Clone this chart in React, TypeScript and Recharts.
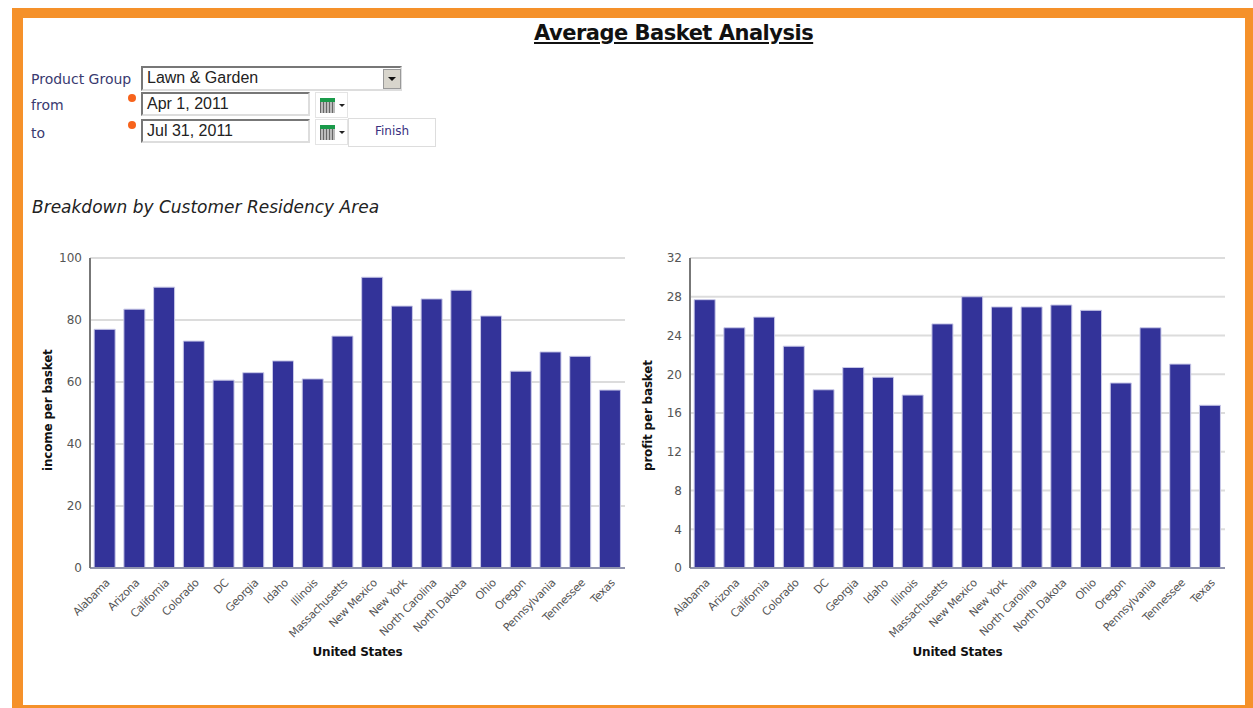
import React from 'react'
import { BarChart, Bar, XAxis, YAxis, CartesianGrid } from 'recharts'

const states = [
  'Alabama', 'Arizona', 'California', 'Colorado', 'DC', 'Georgia', 'Idaho', 'Illinois', 'Massachusetts',
  'New Mexico', 'New York', 'North Carolina', 'North Dakota', 'Ohio', 'Oregon', 'Pennsylvania', 'Tennessee', 'Texas',
]
const incomePerBasket = [77, 83.5, 90.6, 73.2, 60.6, 63, 66.8, 61, 74.8, 93.8, 84.5, 86.8, 89.6, 81.3, 63.5, 69.7, 68.3, 57.4]
const profitPerBasket = [27.7, 24.8, 25.9, 22.9, 18.4, 20.7, 19.7, 17.85, 25.2, 28, 26.95, 26.95, 27.15, 26.6, 19.1, 24.8, 21.05, 16.8]
const incomeTicks = [0, 20, 40, 60, 80, 100]
const profitTicks = [0, 4, 8, 12, 16, 20, 24, 28, 32]

const FONT = '"DejaVu Sans", Verdana, sans-serif'
const ARIAL = '"Liberation Sans", Arial, sans-serif'

const BasketChart = ({ left, values, ticks, yLabel }: { left: number; values: number[]; ticks: number[]; yLabel: string }) => {
  const data = states.map((name, i) => ({ name, value: values[i] }))
  return (
    <div style={{ position: 'absolute', left, top: 240 }}>
      <BarChart width={610} height={430} data={data} barCategoryGap="14%" margin={{ top: 18, right: 15, left: 0, bottom: 2 }}>
        <CartesianGrid vertical={false} stroke="#dcdcdc" strokeWidth={2} />
        <XAxis
          dataKey="name"
          interval={0}
          height={100}
          angle={-45}
          textAnchor="end"
          tickLine={false}
          tickMargin={4}
          axisLine={{ stroke: '#8f93ad', strokeWidth: 2 }}
          tick={{ fontSize: 11, fill: '#555', fontFamily: FONT, letterSpacing: -0.3 }}
          label={{ value: 'United States', position: 'insideBottom', offset: 12, fontSize: 12, fontWeight: 'bold', fill: '#111', fontFamily: FONT, letterSpacing: -0.2 }}
        />
        <YAxis
          width={60}
          domain={[ticks[0], ticks[ticks.length - 1]]}
          ticks={ticks}
          interval={0}
          tickLine={false}
          tickMargin={2}
          axisLine={{ stroke: '#777', strokeWidth: 2 }}
          tick={{ fontSize: 12, fill: '#555', fontFamily: FONT }}
          label={{ value: yLabel, angle: -90, position: 'insideLeft', offset: 18, dy: 58, fontSize: 12, fontWeight: 'bold', fill: '#111', fontFamily: FONT, letterSpacing: -0.2 }}
        />
        <Bar dataKey="value" fill="#333399" stroke="#c9c9e8" strokeWidth={1} isAnimationActive={false} />
      </BarChart>
    </div>
  )
}

const fieldStyle: React.CSSProperties = {
  position: 'absolute',
  boxSizing: 'border-box',
  background: '#fff',
  borderTop: '2px solid #777',
  borderLeft: '2px solid #777',
  borderRight: '2px solid #ddd',
  borderBottom: '2px solid #ddd',
  fontFamily: ARIAL,
  fontSize: 16,
  color: '#222',
  paddingLeft: 4,
  lineHeight: '20px',
}

const labelStyle: React.CSSProperties = { position: 'absolute', left: 31, fontFamily: FONT, fontSize: 14, color: '#3a3a70' }

// small calendar button next to the date fields
const CalendarButton = ({ top }: { top: number }) => (
  <div style={{ position: 'absolute', left: 315, top, width: 33, height: 26, boxSizing: 'border-box', border: '1px solid #e4e4e4', background: '#fff' }}>
    <div style={{ position: 'absolute', left: 4, top: 5, width: 15, height: 15, background: 'repeating-linear-gradient(90deg,#666 0 1px,#bbb 1px 3px)' }}>
      <div style={{ height: 4, background: '#1a9a4a' }} />
    </div>
    <div style={{ position: 'absolute', left: 23, top: 11, width: 0, height: 0, borderLeft: '3px solid transparent', borderRight: '3px solid transparent', borderTop: '3px solid #222' }} />
  </div>
)

const Asterisk = ({ top }: { top: number }) => (
  <div style={{ position: 'absolute', left: 128, top, width: 8, height: 8, borderRadius: 4, background: '#f7631c' }} />
)

export default function App() {
  return (
    <div style={{ position: 'absolute', left: 0, top: 0, width: 1253, height: 708, background: '#fff', overflow: 'hidden' }}>
      <div style={{ position: 'absolute', left: 12, top: 8, width: 1241, height: 708, boxSizing: 'border-box', borderTop: '10px solid #f5912a', borderLeft: '11px solid #f5912a', borderRight: '8px solid #f5912a' }} />
      <div style={{ position: 'absolute', left: 12, top: 705, width: 1241, height: 3, background: '#f5912a' }} />

      <div style={{ position: 'absolute', left: 534, top: 21, fontFamily: FONT, fontSize: 21, fontWeight: 'bold', color: '#111', textDecoration: 'underline', letterSpacing: -0.5, whiteSpace: 'nowrap' }}>
        Average Basket Analysis
      </div>

      <div style={{ ...labelStyle, top: 71 }}>Product Group</div>
      <div style={{ ...labelStyle, top: 97 }}>from</div>
      <div style={{ ...labelStyle, top: 125 }}>to</div>

      <div style={{ ...fieldStyle, left: 141, top: 66, width: 261, height: 25 }}>Lawn &amp; Garden</div>
      <div style={{ position: 'absolute', left: 383, top: 69, width: 18, height: 20, boxSizing: 'border-box', background: '#d8d5cc', border: '1px solid #999' }}>
        <div style={{ position: 'absolute', left: 4, top: 7, width: 0, height: 0, borderLeft: '4px solid transparent', borderRight: '4px solid transparent', borderTop: '4px solid #111' }} />
      </div>

      <Asterisk top={94} />
      <div style={{ ...fieldStyle, left: 141, top: 92, width: 169, height: 24 }}>Apr 1, 2011</div>
      <CalendarButton top={92} />

      <Asterisk top={121} />
      <div style={{ ...fieldStyle, left: 141, top: 119, width: 169, height: 24 }}>Jul 31, 2011</div>
      <CalendarButton top={119} />

      <div style={{ position: 'absolute', left: 348, top: 118, width: 88, height: 29, boxSizing: 'border-box', border: '1px solid #ddd', background: '#fff', textAlign: 'center', fontFamily: FONT, fontSize: 12, lineHeight: '25px', color: '#3a2f80' }}>
        Finish
      </div>

      <div style={{ position: 'absolute', left: 32, top: 197, fontFamily: FONT, fontSize: 17, fontStyle: 'italic', color: '#222', whiteSpace: 'nowrap' }}>
        Breakdown by Customer Residency Area
      </div>

      <BasketChart left={30} values={incomePerBasket} ticks={incomeTicks} yLabel="income per basket" />
      <BasketChart left={630} values={profitPerBasket} ticks={profitTicks} yLabel="profit per basket" />
    </div>
  )
}
